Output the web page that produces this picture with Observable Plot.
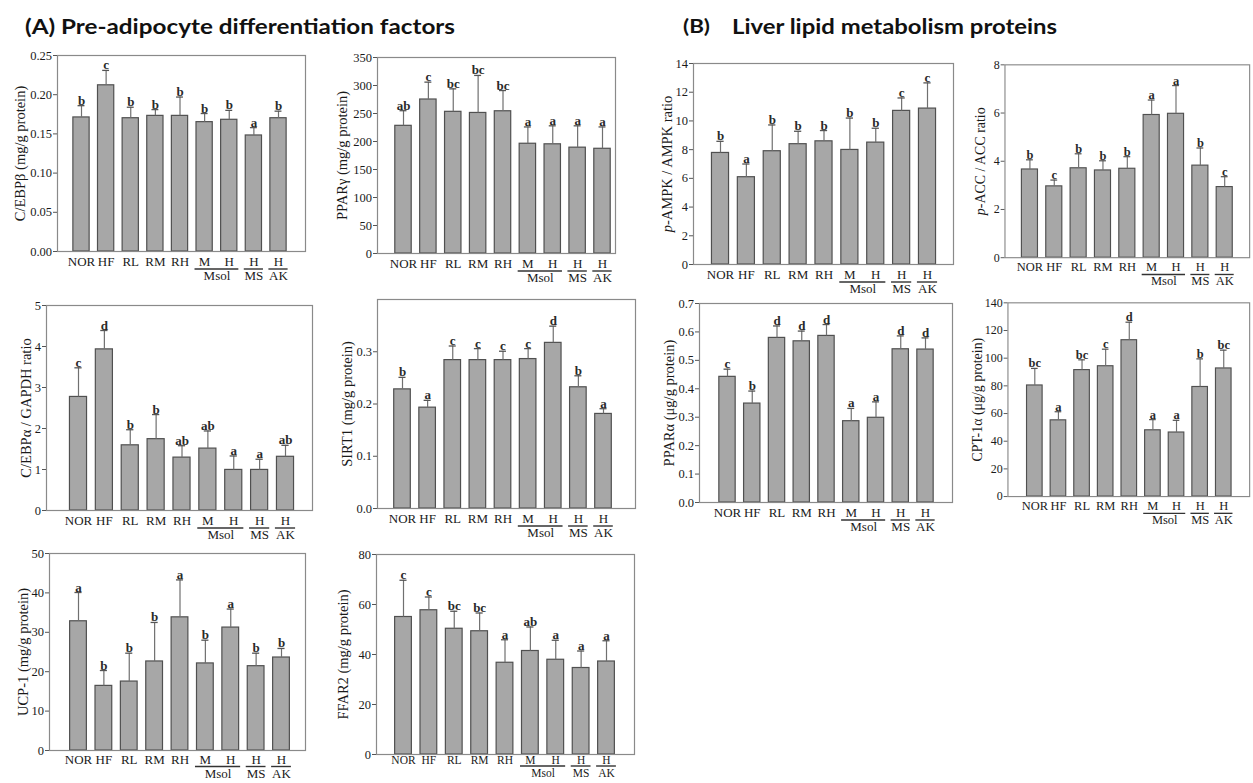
<!DOCTYPE html>
<html><head><meta charset="utf-8">
<script src="https://cdn.jsdelivr.net/npm/d3@7"></script>
<script src="https://cdn.jsdelivr.net/npm/@observablehq/plot@0.6"></script>
<style>
body{margin:0;background:#fff;}
#root{position:relative;width:1253px;height:783px;overflow:hidden;background:#fff;}
.title{position:absolute;font-family:Lato,"Open Sans",sans-serif;font-weight:700;line-height:1;color:#111;white-space:pre;transform-origin:0 0;}
.panel{position:absolute;}
</style></head><body><div id="root"></div>
<script>
// categories
const groups = ["NOR","HF","RL","RM","RH","Msol-M","Msol-H","MS-H","AK-H"];
const tickLabels = ["NOR","HF","RL","RM","RH","M","H","H","H"];
const groupNames = ["Msol","MS","AK"];
const groupFirst = [5,7,8];
const groupLast = [6,7,8];

// (A) Pre-adipocyte differentiation factors
const cebpbMean = [0.171,0.212,0.170,0.173,0.173,0.165,0.168,0.148,0.170];
const cebpbErr  = [0.186,0.231,0.184,0.181,0.197,0.176,0.180,0.158,0.179];
const cebpbSig  = ["b","c","b","b","b","b","b","a","b"];
const cebpbTicks = [0,0.05,0.10,0.15,0.20,0.25];

const ppargMean = [228,275,253,251,254,196,195,189,187];
const ppargErr  = [255,306,294,318,291,226,228,228,226];
const ppargSig  = ["ab","c","bc","bc","bc","a","a","a","a"];
const ppargTicks = [0,50,100,150,200,250,300,350];

const cebpaMean = [2.77,3.93,1.59,1.74,1.29,1.51,0.99,0.99,1.31];
const cebpaErr  = [3.48,4.39,1.97,2.34,1.58,1.94,1.33,1.25,1.59];
const cebpaSig  = ["c","d","b","b","ab","ab","a","a","ab"];
const cebpaTicks = [0,1,2,3,4,5];

const sirt1Mean = [0.228,0.193,0.284,0.284,0.284,0.286,0.317,0.232,0.181];
const sirt1Err  = [0.251,0.207,0.311,0.306,0.301,0.306,0.349,0.254,0.191];
const sirt1Sig  = ["b","a","c","c","c","c","d","b","a"];
const sirt1Ticks = [0,0.1,0.2,0.3];

const ucp1Mean = [32.8,16.4,17.5,22.6,33.8,22.1,31.2,21.4,23.6];
const ucp1Err  = [40.1,20.3,24.7,32.5,43.3,28.0,35.9,24.7,25.9];
const ucp1Sig  = ["a","b","b","b","a","b","a","b","b"];
const ucp1Ticks = [0,10,20,30,40,50];

const ffar2Mean = [55.0,57.7,50.3,49.3,36.7,41.4,37.9,34.6,37.2];
const ffar2Err  = [69.7,63.0,57.3,56.6,45.9,51.0,45.7,41.4,45.5];
const ffar2Sig  = ["c","c","bc","bc","a","ab","a","a","a"];
const ffar2Ticks = [0,20,40,60,80];

// (B) Liver lipid metabolism proteins
const ampkMean = [7.77,6.08,7.89,8.38,8.58,7.98,8.49,10.7,10.86];
const ampkErr  = [8.58,7.0,9.72,9.28,9.33,10.2,9.49,11.6,12.65];
const ampkSig  = ["b","a","b","b","b","b","b","c","c"];
const ampkTicks = [0,2,4,6,8,10,12,14];

const accMean = [3.66,2.96,3.71,3.62,3.69,5.92,5.97,3.82,2.93];
const accErr  = [4.06,3.22,4.31,4.02,4.19,6.54,7.14,4.55,3.36];
const accSig  = ["b","c","b","b","b","a","a","b","c"];
const accTicks = [0,2,4,6,8];

const pparaMean = [0.442,0.348,0.579,0.567,0.586,0.286,0.298,0.539,0.538];
const pparaErr  = [0.469,0.392,0.621,0.603,0.626,0.331,0.354,0.586,0.579];
const pparaSig  = ["c","b","d","d","d","a","a","d","d"];
const pparaTicks = [0,0.1,0.2,0.3,0.4,0.5,0.6,0.7];

const cptMean = [80.3,55.1,91.4,94.2,113,47.9,46.3,79.2,92.6];
const cptErr  = [92.6,61.3,98.8,106.5,126,55.6,55.1,99.5,105.8];
const cptSig  = ["bc","a","bc","c","d","a","a","b","bc"];
const cptTicks = [0,20,40,60,80,100,120,140];

const root = document.getElementById("root");
const SERIF = "'Liberation Serif', 'Times New Roman', serif";

function addTitle(text, left, baseline, size, targetWidth) {
  const d = document.createElement("div");
  d.className = "title";
  d.textContent = text;
  d.style.fontSize = size + "px";
  d.style.left = left + "px";
  d.style.top = (baseline - 0.887 * size) + "px";
  root.appendChild(d);
  const w = d.getBoundingClientRect().width;
  if (w > 0) d.style.transform = `scaleX(${targetWidth / w})`;
}
addTitle("(A) Pre-adipocyte differentiation factors", 25, 33.3, 21, 430);
addTitle("(B)", 683, 32.5, 18, 27);
addTitle("Liver lipid metabolism proteins", 732, 33.3, 21, 325);

function panel(cfg) {
  const [L, R, T, B, c0, c8] = cfg.box;
  const [tp, ld, gd, fs] = cfg.bottom || [5, 17.5, 19.5, 13];
  const ml = 62, mr = 4, mt = 16, mb = 36;
  const step = (c8 - c0) / 8;
  const xd = [-(c0 - L) / step, 8 + (R - c8) / step];
  const data = groups.map((g, i) => ({i, g, mean: cfg.mean[i], err: cfg.err[i], sig: cfg.sig[i]}));
  const gdata = groupNames.map((n, k) => ({name: n, a: groupFirst[k] - 0.39, b: groupLast[k] + 0.39, c: (groupFirst[k] + groupLast[k]) / 2}));
  const svg = Plot.plot({
    width: R - L + ml + mr, height: B - T + mt + mb,
    marginLeft: ml, marginRight: mr, marginTop: mt, marginBottom: mb,
    x: {type: "linear", domain: xd},
    y: {domain: [0, cfg.ymax]},
    style: {fontFamily: SERIF, fontSize: "12.5px", color: "#1a1a1a", background: "transparent", overflow: "visible"},
    marks: [
      Plot.rectY(data, {x1: d => d.i - 0.33, x2: d => d.i + 0.33, y: "mean", fill: "#a7a7a7", stroke: "#505050", strokeWidth: 1.2}),
      Plot.ruleX(data, {x: "i", y1: "mean", y2: "err", stroke: "#707070", strokeWidth: 1.2}),
      Plot.ruleY(data, {x1: d => d.i - 0.14, x2: d => d.i + 0.14, y: "err", stroke: "#555", strokeWidth: 1.3}),
      Plot.text(data, {x: "i", y: "err", text: "sig", lineAnchor: "bottom", dy: -1, fontFamily: SERIF, fontSize: 13, fontWeight: "bold", fill: "#2a2a2a"}),
      Plot.frame({stroke: "#8a8a8a", strokeWidth: 1.2}),
      Plot.axisY({ticks: cfg.ticks, tickFormat: cfg.fmt, tickSize: 4, tickPadding: 1.5, label: null, stroke: "#555", fill: "#1a1a1a", fontFamily: SERIF, fontSize: 12.5}),
      Plot.axisX({ticks: d3.range(groups.length), tickFormat: i => tickLabels[i], tickSize: 0, tickPadding: tp, label: null, fill: "#1a1a1a", fontFamily: SERIF, fontSize: fs}),
      Plot.ruleY(gdata, {x1: "a", x2: "b", y: () => 0, dy: ld, stroke: "#333", strokeWidth: 1.4}),
      Plot.text(gdata, {x: "c", text: "name", frameAnchor: "bottom", lineAnchor: "top", dy: gd, fill: "#1a1a1a", fontFamily: SERIF, fontSize: fs}),
      Plot.text([cfg.label], {text: d => d, frameAnchor: "left", textAnchor: "middle", rotate: -90, dx: -cfg.lo, fontFamily: SERIF, fontSize: 14.5, fill: "#1a1a1a"})
    ]
  });
  if (cfg.italicP) {
    svg.querySelectorAll("text").forEach(t => {
      if (t.textContent === cfg.label) {
        const rest = cfg.label.slice(1);
        t.textContent = "";
        const ns = "http://www.w3.org/2000/svg";
        const a = document.createElementNS(ns, "tspan");
        a.setAttribute("font-style", "italic");
        a.textContent = cfg.label[0];
        const b = document.createElementNS(ns, "tspan");
        b.textContent = rest;
        t.appendChild(a); t.appendChild(b);
      }
    });
  }
  const div = document.createElement("div");
  div.className = "panel";
  div.style.left = (L - ml) + "px";
  div.style.top = (T - mt) + "px";
  div.appendChild(svg);
  root.appendChild(div);
}

const f2 = d3.format(".2f"), f1 = d3.format(".1f"), f0 = d3.format("d");
panel({label: "C/EBPβ (mg/g protein)", mean: cebpbMean, err: cebpbErr, sig: cebpbSig, ymax: 0.25, ticks: cebpbTicks, fmt: f2, box: [57, 305, 55, 251, 81, 278], lo: 37});
panel({label: "PPARγ (mg/g protein)", mean: ppargMean, err: ppargErr, sig: ppargSig, ymax: 350, ticks: ppargTicks, fmt: f0, box: [377, 615, 57, 253, 403, 602], lo: 35});
panel({label: "C/EBPα / GAPDH ratio", mean: cebpaMean, err: cebpaErr, sig: cebpaSig, ymax: 5, ticks: cebpaTicks, fmt: f0, box: [46, 312, 305, 510, 78, 285], lo: 20});
panel({label: "SIRT1 (mg/g protein)", mean: sirt1Mean, err: sirt1Err, sig: sirt1Sig, ymax: 0.4, ticks: sirt1Ticks, fmt: f1, box: [377, 635, 299, 508, 402, 603], lo: 30});
panel({label: "UCP-1 (mg/g protein)", mean: ucp1Mean, err: ucp1Err, sig: ucp1Sig, ymax: 50, ticks: ucp1Ticks, fmt: f0, box: [49, 305, 553, 750, 78, 281], lo: 26, bottom: [4.5, 16, 18, 13]});
panel({label: "FFAR2 (mg/g protein)", mean: ffar2Mean, err: ffar2Err, sig: ffar2Sig, ymax: 80, ticks: ffar2Ticks, fmt: f0, box: [376, 634, 554, 754, 403, 606], lo: 33, bottom: [1, 11.5, 14, 11.5]});
panel({label: "p-AMPK / AMPK ratio", italicP: true, mean: ampkMean, err: ampkErr, sig: ampkSig, ymax: 14, ticks: ampkTicks, fmt: f0, box: [693, 953, 63, 264, 720, 927], lo: 26});
panel({label: "p-ACC / ACC ratio", italicP: true, mean: accMean, err: accErr, sig: accSig, ymax: 8, ticks: accTicks, fmt: f0, box: [1007, 1262, 65, 266, 1033, 1236], lo: 25});
panel({label: "PPARα (μg/g protein)", mean: pparaMean, err: pparaErr, sig: pparaSig, ymax: 0.7, ticks: pparaTicks, fmt: f1, box: [699, 952, 303, 502, 727, 925], lo: 30});
panel({label: "CPT-1α (μg/g protein)", mean: cptMean, err: cptErr, sig: cptSig, ymax: 140, ticks: cptTicks, fmt: f0, box: [1010, 1262, 303, 505, 1038, 1235], lo: 32});
</script></body></html>
